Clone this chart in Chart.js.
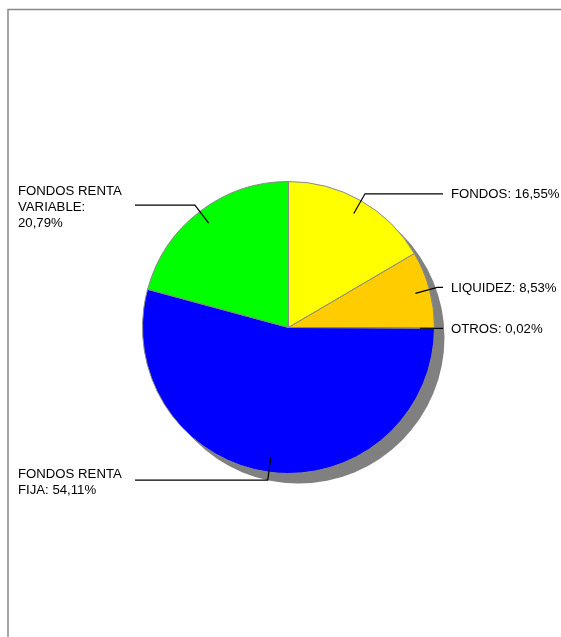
<!DOCTYPE html>
<html>
<head>
<meta charset="utf-8">
<script src="https://cdn.jsdelivr.net/npm/chart.js@4.4.1/dist/chart.umd.min.js"></script>
<style>
  html, body { margin: 0; padding: 0; background: #fff; }
  canvas { display: block; }
</style>
</head>
<body>
<canvas id="pie" width="561" height="637"></canvas>
<script>
// slices, clockwise from 12 o'clock
const categories = ['FONDOS', 'LIQUIDEZ', 'OTROS', 'FONDOS RENTA FIJA', 'FONDOS RENTA VARIABLE'];
const shares = [16.55, 8.53, 0.02, 54.11, 20.79];
const sliceColors = ['#FFFF00', '#FFCC00', '#FF00FF', '#0000FF', '#00FF00'];

const FONT = '13.2px "Liberation Sans", Arial, sans-serif';

const fmt = v => v.toFixed(2).replace('.', ',') + '%';

function wrap(ctx, text, maxW) {
  const words = text.split(' ');
  const lines = [];
  let cur = '';
  words.forEach(w => {
    const test = cur ? cur + ' ' + w : w;
    if (cur && ctx.measureText(test).width > maxW) {
      lines.push(cur);
      cur = w;
    } else {
      cur = test;
    }
  });
  if (cur) lines.push(cur);
  return lines;
}

// grey frame top/left
const framePlugin = {
  id: 'frame',
  beforeDraw(chart) {
    const ctx = chart.ctx;
    ctx.save();
    ctx.strokeStyle = '#888';
    ctx.lineWidth = 1.5;
    ctx.beginPath();
    ctx.moveTo(8, 637);
    ctx.lineTo(8, 9.5);
    ctx.lineTo(561, 9.5);
    ctx.stroke();
    ctx.restore();
  }
};

// drop shadow behind the pie
const shadowPlugin = {
  id: 'shadow',
  beforeDatasetsDraw(chart) {
    const arc = chart.getDatasetMeta(0).data[0];
    if (!arc) return;
    const ctx = chart.ctx;
    ctx.save();
    ctx.fillStyle = '#808080';
    ctx.beginPath();
    ctx.arc(arc.x + 10, arc.y + 10, arc.outerRadius, 0, Math.PI * 2);
    ctx.fill();
    ctx.restore();
  }
};

// leader lines + labels
const labelPlugin = {
  id: 'leaders',
  afterDatasetsDraw(chart) {
    const ctx = chart.ctx;
    const meta = chart.getDatasetMeta(0);
    ctx.save();
    ctx.font = FONT;
    ctx.fillStyle = '#000';
    ctx.strokeStyle = '#000';
    ctx.lineWidth = 1.2;
    ctx.textBaseline = 'middle';
    meta.data.forEach((arc, i) => {
      const r = arc.outerRadius;
      const mid = (arc.startAngle + arc.endAngle) / 2;
      const cos = Math.cos(mid), sin = Math.sin(mid);
      const right = cos >= 0;
      const x0 = arc.x + cos * r * 0.9, y0 = arc.y + sin * r * 0.9;
      const x1 = arc.x + cos * r * 1.055, y1 = arc.y + sin * r * 1.055;
      const xEnd = right ? 443 : 135;
      ctx.beginPath();
      ctx.moveTo(x0, y0);
      ctx.lineTo(x1, y1);
      ctx.lineTo(xEnd, y1);
      ctx.stroke();

      const text = categories[i] + ': ' + fmt(shares[i]);
      const lines = right ? [text] : wrap(ctx, text, 112);
      const lh = 16;
      const top = y1 - (lines.length - 1) * lh / 2 + (lines.length > 1 ? 2 : 0.5);
      ctx.textAlign = 'left';
      lines.forEach((ln, k) => ctx.fillText(ln, right ? 451 : 18, top + k * lh));
    });
    ctx.restore();
  }
};

new Chart(document.getElementById('pie'), {
  type: 'pie',
  data: {
    labels: categories,
    datasets: [{
      data: shares,
      backgroundColor: sliceColors,
      borderColor: '#888',
      borderWidth: 1,
      radius: 146
    }]
  },
  options: {
    responsive: false,
    animation: false,
    events: [],
    devicePixelRatio: 1,
    layout: { padding: { left: 16, right: 0, top: 18, bottom: 0 } },
    plugins: {
      legend: { display: false },
      tooltip: { enabled: false }
    }
  },
  plugins: [framePlugin, shadowPlugin, labelPlugin]
});
</script>
</body>
</html>
